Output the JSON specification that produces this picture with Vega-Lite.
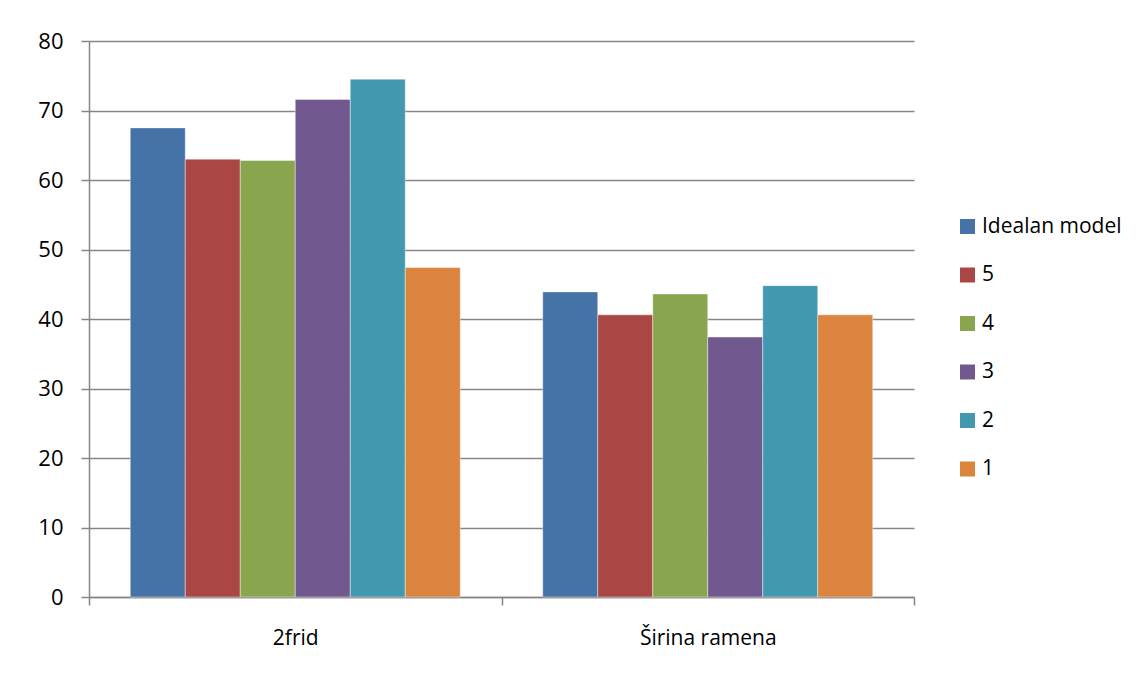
{
  "$schema": "https://vega.github.io/schema/vega-lite/v6.json",
  "autosize": {"type": "none"},
  "width": 825,
  "height": 556,
  "padding": {"left": 89, "top": 41, "right": 234, "bottom": 80},
  "background": "white",
  "data": {"values": [
    {"cat": "2frid", "s": "Idealan model", "v": 67.5},
    {"cat": "2frid", "s": "5", "v": 63.0},
    {"cat": "2frid", "s": "4", "v": 62.8},
    {"cat": "2frid", "s": "3", "v": 71.6},
    {"cat": "2frid", "s": "2", "v": 74.5},
    {"cat": "2frid", "s": "1", "v": 47.4},
    {"cat": "Širina ramena", "s": "Idealan model", "v": 43.9},
    {"cat": "Širina ramena", "s": "5", "v": 40.6},
    {"cat": "Širina ramena", "s": "4", "v": 43.6},
    {"cat": "Širina ramena", "s": "3", "v": 37.4},
    {"cat": "Širina ramena", "s": "2", "v": 44.8},
    {"cat": "Širina ramena", "s": "1", "v": 40.6}
  ]},
  "mark": {"type": "bar", "stroke": "white", "strokeWidth": 0.6, "strokeOpacity": 0.7},
  "encoding": {
    "x": {
      "field": "cat", "type": "nominal", "sort": null,
      "scale": {"paddingInner": 0, "paddingOuter": 0},
      "axis": {
        "title": null, "labelAngle": 0, "tickBand": "extent",
        "labelFont": "Open Sans", "labelFontSize": 21, "labelColor": "#000000",
        "labelPadding": 22, "tickSize": 8, "tickColor": "#868686", "tickWidth": 1.5,
        "domainColor": "#868686", "domainWidth": 1.5, "grid": false
      }
    },
    "xOffset": {
      "field": "s", "type": "nominal", "sort": ["Idealan model", "5", "4", "3", "2", "1"],
      "scale": {"paddingInner": 0, "paddingOuter": 0.75}
    },
    "y": {
      "field": "v", "type": "quantitative",
      "scale": {"domain": [0, 80], "nice": false},
      "axis": {
        "title": null, "values": [0, 10, 20, 30, 40, 50, 60, 70, 80],
        "labelFont": "Open Sans", "labelFontSize": 22, "labelColor": "#000000",
        "labelPadding": 18, "tickSize": 8, "tickColor": "#868686", "tickWidth": 1.5,
        "domainColor": "#868686", "domainWidth": 1.5,
        "grid": true, "gridColor": "#868686", "gridWidth": 1.5
      }
    },
    "color": {
      "field": "s", "type": "nominal",
      "sort": ["Idealan model", "5", "4", "3", "2", "1"],
      "scale": {
        "domain": ["Idealan model", "5", "4", "3", "2", "1"],
        "range": ["#4572A7", "#AA4643", "#89A54E", "#71588F", "#4198AF", "#DB843D"]
      },
      "legend": {
        "title": null, "orient": "none", "legendX": 868, "legendY": 175,
        "symbolType": "square", "symbolSize": 225, "symbolStrokeWidth": 0,
        "labelFont": "Open Sans", "labelFontSize": 21, "labelColor": "#000000",
        "labelOffset": 4, "rowPadding": 26.5
      }
    }
  },
  "config": {"view": {"stroke": null}}
}
